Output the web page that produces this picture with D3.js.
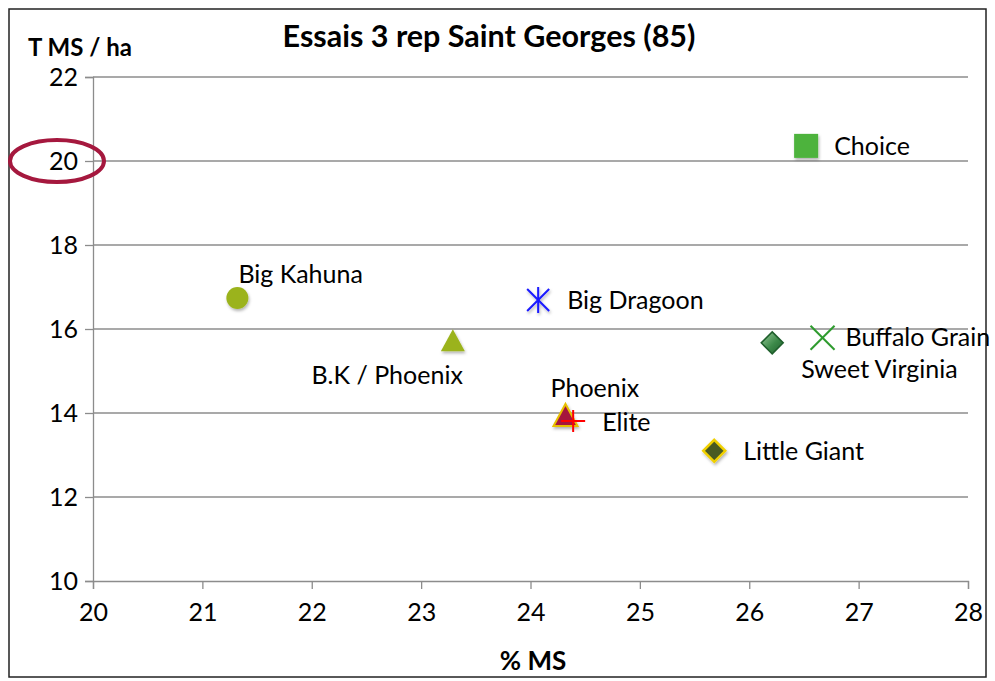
<!DOCTYPE html>
<html>
<head>
<meta charset="utf-8">
<script src="https://cdn.jsdelivr.net/npm/d3@7"></script>
<style>
  body { margin: 0; background: #fff; }
  text { font-family: Lato, "Open Sans", sans-serif; }
</style>
</head>
<body>
<div id="chart"></div>
<script>
// data
const varieties = ['Big Kahuna', 'B.K / Phoenix', 'Big Dragoon', 'Phoenix', 'Elite',
  'Little Giant', 'Sweet Virginia', 'Buffalo Grain', 'Choice']
const pctMS = [21.32, 23.29, 24.07, 24.32, 24.39, 25.68, 26.21, 26.67, 26.52]
const tMSha = [16.74, 15.71, 16.69, 13.93, 13.81, 13.10, 15.67, 15.79, 20.36]
const xTicks = [20, 21, 22, 23, 24, 25, 26, 27, 28]
const yTicks = [10, 12, 14, 16, 18, 20, 22]

// marker look + label placement (dx, dy, anchor)
const markers = ['circle', 'triangle', 'asterisk', 'triangleRed', 'plus',
  'diamondYellow', 'diamondGreen', 'cross', 'square']
const labelOffsets = [[1, -15, 'start'], [10, 43, 'end'], [29, 9, 'start'], [-15, -19, 'start'],
  [29, 10, 'start'], [29, 9, 'start'], [29, 35, 'start'], [23, 8, 'start'], [28, 9, 'start']]

const W = 995, H = 681
const svg = d3.select('#chart').append('svg')
  .attr('width', W)
  .attr('height', H)

const defs = svg.append('defs')
const shadow = defs.append('filter').attr('id', 'shadow')
  .attr('x', '-50%').attr('y', '-50%').attr('width', '200%').attr('height', '200%')
shadow.append('feDropShadow')
  .attr('dx', 1).attr('dy', 2).attr('stdDeviation', 1.5)
  .attr('flood-color', '#000').attr('flood-opacity', 0.3)

const grad = defs.append('linearGradient').attr('id', 'greenDiamond')
  .attr('x1', 0).attr('y1', 0).attr('x2', 1).attr('y2', 1)
grad.append('stop').attr('offset', '0%').attr('stop-color', '#9ccc9c')
grad.append('stop').attr('offset', '55%').attr('stop-color', '#3d8a4a')
grad.append('stop').attr('offset', '100%').attr('stop-color', '#1f5f2c')

// outer frame
svg.append('rect')
  .attr('x', 9).attr('y', 9)
  .attr('width', 977).attr('height', 668)
  .style('fill', 'none')
  .style('stroke', '#222')
  .style('stroke-width', 1.5)

const x = d3.scaleLinear().domain([20, 28]).range([93, 968])
const y = d3.scaleLinear().domain([10, 22]).range([581, 77])

// horizontal grid
svg.append('g')
  .selectAll('line')
  .data(yTicks.filter(d => d !== 10))
  .join('line')
    .attr('x1', x(20)).attr('x2', x(28))
    .attr('y1', d => y(d)).attr('y2', d => y(d))
    .style('stroke', '#8c8c8c')
    .style('stroke-width', 1.3)

// axes
const xAxis = svg.append('g')
  .attr('transform', `translate(0, ${y(10)})`)
  .call(d3.axisBottom(x).tickValues(xTicks).tickSize(8).tickPadding(14).tickFormat(d3.format('d')))
const yAxis = svg.append('g')
  .attr('transform', `translate(${x(20)}, 0)`)
  .call(d3.axisLeft(y).tickValues(yTicks).tickSize(8).tickPadding(7).tickFormat(d3.format('d')))

;[xAxis, yAxis].forEach(a => {
  a.select('.domain').style('stroke', '#8c8c8c').style('stroke-width', 1.3)
  a.selectAll('.tick line').style('stroke', '#8c8c8c').style('stroke-width', 1.3)
  a.selectAll('.tick text')
    .style('font-size', '25px')
    .style('font-family', 'Lato, "Open Sans", sans-serif')
    .style('fill', '#000')
})
yAxis.selectAll('.tick text').attr('dy', '0.35em')

// titles
svg.append('text')
  .attr('x', 489).attr('y', 47)
  .attr('text-anchor', 'middle')
  .style('font-size', '30.5px')
  .style('font-weight', 'bold')
  .text('Essais 3 rep Saint Georges (85)')

svg.append('text')
  .attr('x', 28).attr('y', 56)
  .style('font-size', '24px')
  .style('font-weight', 'bold')
  .text('T MS / ha')

svg.append('text')
  .attr('x', 533).attr('y', 670)
  .attr('text-anchor', 'middle')
  .style('font-size', '26px')
  .style('font-weight', 'bold')
  .text('% MS')

// red ellipse around 20
svg.append('ellipse')
  .attr('cx', 57).attr('cy', y(20))
  .attr('rx', 47).attr('ry', 21)
  .style('fill', 'none')
  .style('stroke', '#a5183e')
  .style('stroke-width', 4)

// points
const pts = svg.append('g')
varieties.forEach((name, i) => {
  const g = pts.append('g')
    .attr('transform', `translate(${x(pctMS[i])}, ${y(tMSha[i])})`)
  drawMarker(g, markers[i])

  const [dx, dy, anchor] = labelOffsets[i]
  pts.append('text')
    .attr('x', x(pctMS[i]) + dx)
    .attr('y', y(tMSha[i]) + dy)
    .attr('text-anchor', anchor)
    .style('font-size', '25px')
    .text(name)
})

function drawMarker(g, type) {
  const tri = 'M0,-12L12,10L-12,10Z'
  const dia = 'M0,-11L11,0L0,11L-11,0Z'
  if (type === 'circle') {
    g.append('circle').attr('r', 11).style('fill', '#9bb31a').attr('filter', 'url(#shadow)')
  } else if (type === 'triangle') {
    g.append('path').attr('d', tri).style('fill', '#9bb31a').attr('filter', 'url(#shadow)')
  } else if (type === 'triangleRed') {
    g.append('path').attr('d', tri).style('fill', '#a5183e')
      .style('stroke', '#e8c000').style('stroke-width', 2).attr('filter', 'url(#shadow)')
  } else if (type === 'asterisk') {
    const a = g.append('g').style('stroke', '#1a1aff').style('stroke-width', 2).attr('filter', 'url(#shadow)')
    a.append('line').attr('x1', 0).attr('x2', 0).attr('y1', -13).attr('y2', 13)
    a.append('line').attr('x1', -11).attr('x2', 11).attr('y1', -11).attr('y2', 11)
    a.append('line').attr('x1', -11).attr('x2', 11).attr('y1', 11).attr('y2', -11)
  } else if (type === 'plus') {
    const p = g.append('g').style('stroke', '#ff0000').style('stroke-width', 2)
    p.append('line').attr('x1', -12).attr('x2', 12).attr('y1', 0).attr('y2', 0)
    p.append('line').attr('x1', 0).attr('x2', 0).attr('y1', -11).attr('y2', 11)
  } else if (type === 'diamondYellow') {
    g.append('path').attr('d', dia).style('fill', '#4a5a23')
      .style('stroke', '#f0d000').style('stroke-width', 2.5).attr('filter', 'url(#shadow)')
  } else if (type === 'diamondGreen') {
    g.append('path').attr('d', dia).style('fill', 'url(#greenDiamond)')
      .style('stroke', '#1f5f2c').style('stroke-width', 1.5)
  } else if (type === 'cross') {
    const c = g.append('g').style('stroke', '#2e9b2e').style('stroke-width', 2)
    c.append('line').attr('x1', -12).attr('x2', 12).attr('y1', -12).attr('y2', 12)
    c.append('line').attr('x1', -12).attr('x2', 12).attr('y1', 12).attr('y2', -12)
  } else if (type === 'square') {
    g.append('rect').attr('x', -12).attr('y', -12).attr('width', 24).attr('height', 24)
      .style('fill', '#4db33d').attr('filter', 'url(#shadow)')
  }
}
</script>
</body>
</html>
